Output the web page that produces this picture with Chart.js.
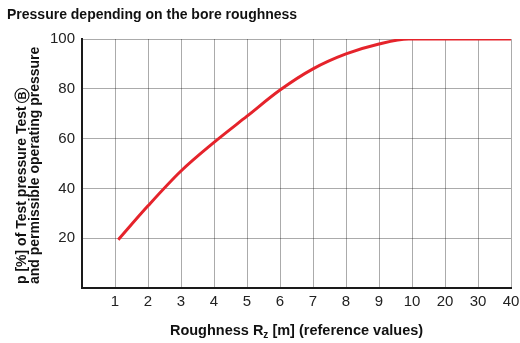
<!DOCTYPE html>
<html>
<head>
<meta charset="utf-8">
<script src="https://cdn.jsdelivr.net/npm/chart.js@4/dist/chart.umd.min.js"></script>
<style>
  html, body { margin: 0; padding: 0; background: #fff; }
  #wrap { width: 520px; height: 343px; position: relative; }
</style>
</head>
<body>
<div id="wrap"><canvas id="c" width="520" height="343"></canvas></div>
<script>
// Roughness Rz values (reference values) and the allowed pressure in percent
const roughness = [1.1, 2, 3, 4, 5, 6, 7, 8, 9, 9.9, 10, 20, 30, 40];
const pressure  = [19.4, 33, 47, 58.5, 69, 79.5, 88, 94, 98, 100, 100, 100, 100, 100];

// Tick labels along the roughness axis (1..10 in steps of 1, then 20, 30, 40)
const xTickLabels = ['1', '2', '3', '4', '5', '6', '7', '8', '9', '10', '20', '30', '40'];
const yTickValues = [20, 40, 60, 80, 100];

const chartTitle = 'Pressure depending on the bore roughness';
const yTitleLine1 = 'p [%] of Test pressure Test ';
const yTitleMark = 'B';
const yTitleLine2 = 'and permissible operating pressure';

// The roughness axis is linear up to 10, then 10 units per step
function axisPos(r) {
  return r <= 10 ? r : 10 + (r - 10) / 10;
}

const FONT = '"Liberation Sans", Arial, Helvetica, sans-serif';

const textPlugin = {
  id: 'texts',
  afterDraw(chart) {
    const ctx = chart.ctx;
    ctx.save();
    ctx.fillStyle = '#111';
    ctx.strokeStyle = '#111';
    // chart title
    ctx.font = 'bold 14px ' + FONT;
    ctx.textAlign = 'left';
    ctx.textBaseline = 'alphabetic';
    ctx.fillText(chartTitle, 7, 19);

    // y axis title, two rotated lines starting at the same height
    ctx.save();
    ctx.font = 'bold 14px ' + FONT;
    ctx.textAlign = 'left';
    ctx.textBaseline = 'middle';
    ctx.translate(22, 284);
    ctx.rotate(-Math.PI / 2);
    ctx.fillText(yTitleLine1, 0, 0);
    const w1 = ctx.measureText(yTitleLine1).width;
    // circled letter
    ctx.font = 'bold 11px ' + FONT;
    const wb = ctx.measureText(yTitleMark).width;
    const cx = w1 + 7;
    ctx.textAlign = 'center';
    ctx.fillText(yTitleMark, cx, 0.5);
    ctx.lineWidth = 1.1;
    ctx.beginPath();
    ctx.arc(cx, 0, 7, 0, Math.PI * 2);
    ctx.stroke();
    ctx.textAlign = 'left';
    ctx.font = 'bold 14px ' + FONT;
    ctx.fillText(yTitleLine2, 0, 13);
    ctx.restore();

    // x axis title with subscript z
    const partA = 'Roughness R';
    const sub = 'z';
    const partB = ' [m] (reference values)';
    const big = 'bold 14.5px ' + FONT;
    const small = 'bold 10px ' + FONT;
    ctx.font = big;
    const wA = ctx.measureText(partA).width;
    const wB = ctx.measureText(partB).width;
    ctx.font = small;
    const wS = ctx.measureText(sub).width;
    const total = wA + wS + wB;
    const x0 = 296.5 - total / 2;
    const base = 335;
    ctx.textAlign = 'left';
    ctx.font = big;
    ctx.fillText(partA, x0, base);
    ctx.font = small;
    ctx.fillText(sub, x0 + wA, base + 3);
    ctx.font = big;
    ctx.fillText(partB, x0 + wA + wS, base);
    ctx.restore();
  }
};

new Chart(document.getElementById('c'), {
  type: 'line',
  data: {
    datasets: [{
      data: roughness.map((r, i) => ({ x: axisPos(r), y: pressure[i] })),
      borderColor: '#e5232b',
      borderWidth: 3,
      pointRadius: 0,
      fill: false,
      cubicInterpolationMode: 'monotone',
      borderCapStyle: 'butt'
    }]
  },
  options: {
    responsive: false,
    animation: false,
    layout: { padding: { top: 39, right: 9, left: 0, bottom: 0 } },
    plugins: {
      legend: { display: false },
      tooltip: { enabled: false }
    },
    scales: {
      x: {
        type: 'linear',
        min: 0,
        max: xTickLabels.length,
        afterBuildTicks(scale) {
          scale.ticks = [];
          for (let k = 0; k <= xTickLabels.length; k++) scale.ticks.push({ value: k });
        },
        afterFit(scale) {
          scale.height = 55;
          scale.paddingRight = 0;
          scale.paddingLeft = 0;
        },
        ticks: {
          callback: (v) => (v >= 1 ? xTickLabels[v - 1] : ''),
          color: '#222',
          font: { family: FONT, size: 15 },
          padding: 5,
          maxRotation: 0,
          autoSkip: false
        },
        grid: { color: 'rgba(0,0,0,0.33)', lineWidth: 1, drawTicks: false },
        border: { color: '#1a1a1a', width: 2 }
      },
      y: {
        min: 0,
        max: 100,
        afterBuildTicks(scale) {
          scale.ticks = [{ value: 0 }].concat(yTickValues.map(v => ({ value: v })));
        },
        afterFit(scale) {
          scale.width = 82;
          scale.paddingTop = 0;
          scale.paddingBottom = 0;
        },
        ticks: {
          callback: (v) => (v === 0 ? '' : String(v)),
          color: '#222',
          font: { family: FONT, size: 15 },
          padding: 7
        },
        grid: { color: 'rgba(0,0,0,0.33)', lineWidth: 1, drawTicks: false },
        border: { color: '#1a1a1a', width: 2 }
      }
    }
  },
  plugins: [textPlugin]
});
</script>
</body>
</html>
